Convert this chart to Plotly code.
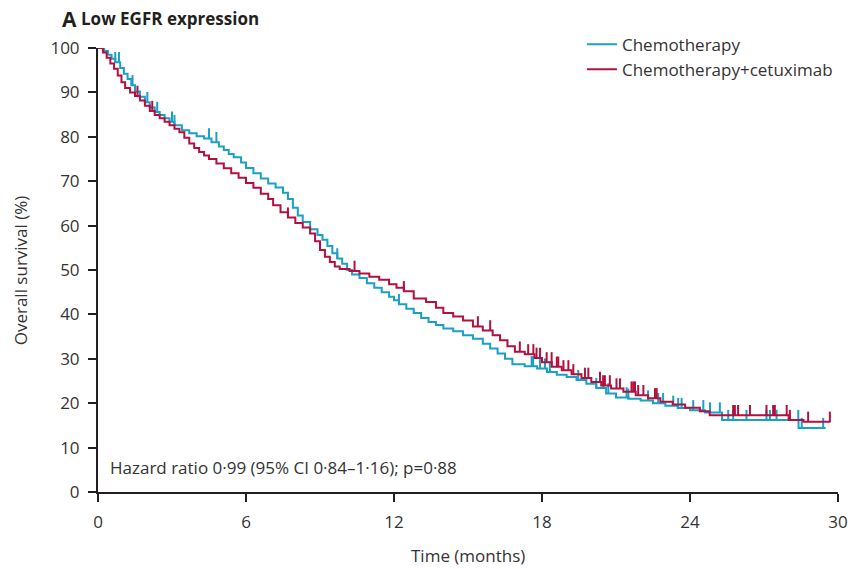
import numpy as np
import plotly.graph_objects as go

# ---------------- data ----------------
chemo_t = [0, 0.25, 0.4, 0.55, 0.7, 0.9, 1.05, 1.2, 1.35, 1.5, 1.7, 1.9, 2.1, 2.3, 2.5, 2.7, 2.9, 3.1,
           3.4, 3.7, 4.0, 4.3, 4.6, 4.9, 5.1, 5.3, 5.5, 5.8, 6.0, 6.3, 6.6, 6.9, 7.2, 7.5, 7.7, 7.9,
           8.1, 8.3, 8.6, 8.9, 9.1, 9.3, 9.5, 9.7, 9.9, 10.1, 10.3, 10.6, 10.9, 11.2, 11.5, 11.8,
           12.0, 12.2, 12.5, 12.8, 13.1, 13.4, 13.7, 14.0, 14.4, 14.8, 15.2, 15.6, 15.9, 16.2, 16.5,
           16.8, 17.3, 17.8, 18.2, 18.6, 19.0, 19.4, 19.8, 20.2, 20.6, 21.0, 21.5, 22.0, 22.5, 23.0,
           23.5, 24.0, 24.6, 25.3, 28.4, 29.5]
chemo_s = [100, 99.3, 98.5, 97.6, 96.8, 95.5, 94.2, 93.0, 91.6, 90.2, 89.0, 87.8, 86.6, 85.6, 84.9,
           84.2, 83.4, 82.6, 81.5, 80.8, 80.1, 79.6, 78.8, 77.8, 77.0, 76.1, 75.4, 74.2, 73.0, 71.8,
           70.6, 69.5, 68.6, 67.4, 66.0, 64.0, 62.3, 60.8, 59.2, 57.9, 56.8, 55.4, 53.8, 52.6, 51.4,
           50.0, 49.0, 48.2, 47.0, 46.0, 45.0, 44.0, 43.2, 42.3, 41.3, 40.3, 39.2, 38.3, 37.6, 36.8,
           36.2, 35.3, 34.5, 33.4, 32.3, 31.2, 30.0, 28.8, 28.3, 27.8, 27.0, 26.4, 25.9, 25.2, 24.4,
           23.4, 22.2, 21.3, 21.0, 20.6, 20.0, 19.4, 18.9, 18.4, 17.9, 16.2, 14.4, 14.4]
chemo_cens = [0.7, 0.85, 1.4, 2.0, 2.4, 3.0, 3.1, 4.5, 4.8, 9.7, 12.2, 17.58, 17.64, 17.92, 18.12,
              18.32, 19.47, 20.2, 20.48, 20.69, 21.43, 21.5, 22.3, 22.71, 22.91, 23.32, 23.52, 23.66,
              24.13, 24.54, 24.81, 25.21, 25.55, 25.75, 26.29, 27.1, 27.24, 27.51, 28.39, 28.53, 29.4]

cetux_t = [0, 0.2, 0.35, 0.5, 0.65, 0.8, 0.95, 1.1, 1.3, 1.5, 1.7, 1.9, 2.1, 2.3, 2.5, 2.7, 2.9, 3.1,
           3.3, 3.5, 3.7, 3.9, 4.1, 4.3, 4.5, 4.8, 5.1, 5.4, 5.7, 6.0, 6.3, 6.6, 6.9, 7.1, 7.4, 7.7,
           8.0, 8.3, 8.6, 8.8, 9.0, 9.2, 9.4, 9.6, 9.8, 10.2, 10.6, 11.0, 11.4, 11.8, 12.1, 12.4,
           12.8, 13.3, 13.7, 14.0, 14.4, 14.8, 15.2, 15.6, 16.0, 16.3, 16.6, 16.9, 17.3, 17.7, 18.0,
           18.4, 18.8, 19.2, 19.6, 20.0, 20.4, 20.8, 21.3, 21.8, 22.3, 22.8, 23.3, 23.8, 24.4, 24.8,
           28.0, 28.6, 29.7]
cetux_s = [100, 99.0, 97.8, 96.5, 95.3, 93.8, 92.3, 91.0, 90.0, 89.2, 88.2, 87.0, 85.8, 84.9, 84.2,
           83.4, 82.6, 81.8, 81.0, 79.8, 78.5, 77.5, 76.6, 75.8, 75.0, 74.0, 72.9, 71.8, 70.8, 69.6,
           68.5, 67.2, 66.0, 64.6, 63.0, 61.8, 60.6, 59.6, 58.2, 56.5, 54.5, 53.0, 51.8, 50.8, 50.2,
           49.8, 49.2, 48.5, 47.8, 46.8, 46.0, 45.2, 43.6, 42.8, 41.5, 40.3, 39.5, 38.6, 37.3, 36.4,
           35.3, 34.2, 32.8, 31.6, 31.0, 30.2, 29.2, 28.2, 27.4, 26.5, 25.7, 24.8, 24.0, 23.3, 22.6,
           21.8, 21.1, 20.3, 19.7, 19.0, 18.2, 17.3, 16.2, 15.8, 15.8]
cetux_cens = [1.6, 2.2, 7.7, 10.4, 12.4, 15.4, 15.9, 17.1, 17.44, 17.65, 17.78, 17.92, 18.19, 18.39,
              18.6, 18.66, 18.87, 19.07, 19.27, 19.74, 19.88, 20.35, 20.48, 20.55, 20.75, 21.02,
              21.16, 21.63, 21.7, 21.77, 21.9, 22.11, 22.58, 22.65, 25.75, 25.82, 25.95, 26.43,
              27.1, 27.37, 27.44, 27.92, 28.05, 28.79, 29.67]

x_ticks = [0, 6, 12, 18, 24, 30]
y_ticks = list(range(0, 101, 10))

BLUE = "#1a9fc6"
RED = "#b3103f"
INK = "#231f20"
TXT = "#333333"
FONT = "Open Sans"


def censor_segments(times, steps_t, steps_s, height=2.3):
    xs, ys = [], []
    st = np.array(steps_t)
    ss = np.array(steps_s)
    for t in times:
        i = np.searchsorted(st, t, side="right") - 1
        lvl = ss[max(i, 0)]
        xs += [t, t, None]
        ys += [lvl, lvl + height, None]
    return xs, ys


fig = go.Figure()
for t, s, c, name, col in [(chemo_t, chemo_s, chemo_cens, "Chemotherapy", BLUE),
                           (cetux_t, cetux_s, cetux_cens, "Chemotherapy+cetuximab", RED)]:
    fig.add_trace(go.Scatter(x=t, y=s, mode="lines", line=dict(color=col, width=2, shape="hv"),
                             name=name))
    cx, cy = censor_segments(c, t, s)
    fig.add_trace(go.Scatter(x=cx, y=cy, mode="lines", line=dict(color=col, width=2),
                             showlegend=False, hoverinfo="skip"))

axis_common = dict(showgrid=False, zeroline=False, showline=True, linecolor=INK, linewidth=2,
                   ticks="outside", ticklen=8, tickwidth=2, tickcolor=INK, automargin=False,
                   tickfont=dict(family=FONT, size=17, color=TXT))
fig.update_xaxes(range=[0, 30], tickvals=x_ticks, ticktext=[str(v) for v in x_ticks],
                 ticklabelstandoff=6, **axis_common)
fig.update_yaxes(range=[0, 100], tickvals=y_ticks, ticktext=[str(v) for v in y_ticks],
                 ticklabelstandoff=5, **axis_common)

fig.update_layout(
    width=854, height=569,
    margin=dict(l=98, r=16, t=48, b=77),
    paper_bgcolor="white", plot_bgcolor="white",
    font=dict(family=FONT, color=TXT),
    legend=dict(x=0.654, y=1.048, xanchor="left", yanchor="top", bgcolor="rgba(0,0,0,0)",
                font=dict(family=FONT, size=17, color=TXT), tracegroupgap=0,
                itemwidth=30),
    annotations=[
        dict(text="<b>A</b>", x=-0.0514, y=1.066, xref="paper", yref="paper", xanchor="left",
             yanchor="middle", showarrow=False, font=dict(family=FONT, size=21, color=INK)),
        dict(text="<b>Low EGFR expression</b>", x=-0.0257, y=1.066, xref="paper", yref="paper",
             xanchor="left", yanchor="middle", showarrow=False,
             font=dict(family=FONT, size=17, color=INK)),
        dict(text="Hazard ratio 0·99 (95% CI 0·84–1·16); p=0·88", x=0.0135, y=0.056,
             xref="paper", yref="paper", xanchor="left", yanchor="middle", showarrow=False,
             font=dict(family=FONT, size=17, color=TXT)),
        dict(text="Overall survival (%)", x=-0.105, y=0.5, xref="paper", yref="paper",
             textangle=-90, xanchor="center", yanchor="middle", showarrow=False,
             font=dict(family=FONT, size=17, color=TXT)),
        dict(text="Time (months)", x=0.5, y=-0.142, xref="paper", yref="paper",
             xanchor="center", yanchor="middle", showarrow=False,
             font=dict(family=FONT, size=17, color=TXT)),
    ],
)

fig.write_html("out.html")
